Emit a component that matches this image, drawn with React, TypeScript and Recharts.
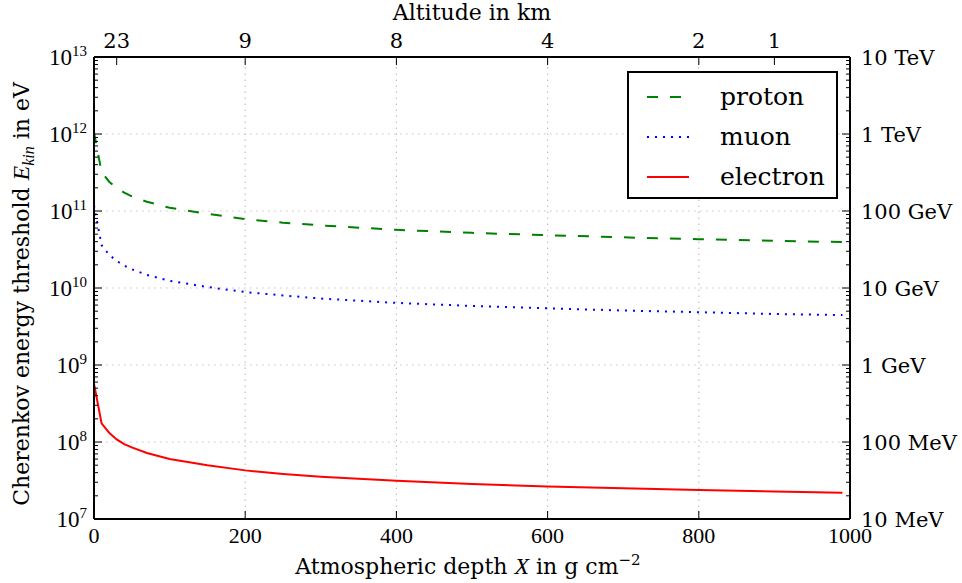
import { LineChart, Line, XAxis, YAxis, ReferenceLine, Legend } from "recharts";

// atmospheric depth in g/cm^2
const depth = [0, 10, 20, 30, 40, 50, 70, 100, 150, 200, 250, 300, 400, 500, 600, 700, 800, 900, 990];
// threshold kinetic energy in eV
const proton = [1.05e12, 3.2e11, 2.4e11, 2.0e11, 1.73e11, 1.55e11, 1.32e11, 1.1e11, 9.2e10, 7.85e10, 7.05e10, 6.5e10, 5.7e10, 5.2e10, 4.85e10, 4.55e10, 4.3e10, 4.1e10, 3.95e10];
const muon = [1.18e11, 3.6e10, 2.7e10, 2.25e10, 1.95e10, 1.75e10, 1.48e10, 1.24e10, 1.03e10, 8.85e9, 8.0e9, 7.3e9, 6.4e9, 5.85e9, 5.45e9, 5.1e9, 4.85e9, 4.6e9, 4.45e9];
const electron = [5.7e8, 1.75e8, 1.32e8, 1.08e8, 9.4e7, 8.5e7, 7.2e7, 6.0e7, 5.0e7, 4.28e7, 3.85e7, 3.55e7, 3.14e7, 2.85e7, 2.65e7, 2.5e7, 2.38e7, 2.27e7, 2.19e7];

const depthTicks = [0, 200, 400, 600, 800, 1000];
const gridDepths = [200, 400, 600, 800];
const altitudeTicks = [30, 200, 400, 600, 800, 900];
const altitudeLabels = ["23", "9", "8", "4", "2", "1"];
const decades = [7, 8, 9, 10, 11, 12, 13];
const energyLabels = ["10 MeV", "100 MeV", "1 GeV", "10 GeV", "100 GeV", "1 TeV", "10 TeV"];

const series = [
  { key: "proton", name: "proton", color: "#008000", dash: "11 12" },
  { key: "muon", name: "muon", color: "#0000ff", dash: "2 6" },
  { key: "electron", name: "electron", color: "#ff0000", dash: undefined as string | undefined },
];

const data = depth.map((d, i) => ({ depth: d, proton: proton[i], muon: muon[i], electron: electron[i] }));

// log ticks: every m*10^e, labels only on decades
const logTicks: number[] = [];
decades.forEach((e, i) => {
  if (i === decades.length - 1) logTicks.push(10 ** e);
  else for (let m = 1; m <= 9; m++) logTicks.push(m * 10 ** e);
});
const isDecade = (v: number) => Math.abs(Math.log10(v) - Math.round(Math.log10(v))) < 1e-9;

const MATH = "'Liberation Serif', serif"; // numbers on the main axes
const TEXT = "'DejaVu Serif', serif"; // plain text labels
const W = 962;
const H = 583;
const GRID = { stroke: "#c4c4c4", strokeDasharray: "1.5 4.5", strokeWidth: 1.2 };

const LeftTick = ({ x, y, payload }: any) => {
  const v = payload.value;
  const major = isDecade(v);
  return (
    <g>
      <line x1={x} x2={x + (major ? 8 : 4)} y1={y} y2={y} stroke="#000" strokeWidth={1} />
      {major && (
        <text x={x - 7} y={y + 8} textAnchor="end" fontFamily={MATH} fontSize={23} fill="#000">
          10<tspan dy={-9} fontSize={15}>{Math.round(Math.log10(v))}</tspan>
        </text>
      )}
    </g>
  );
};

const RightTick = ({ x, y, payload }: any) => {
  const v = payload.value;
  const major = isDecade(v);
  const idx = decades.indexOf(Math.round(Math.log10(v)));
  return (
    <g>
      <line x1={x} x2={x - (major ? 8 : 4)} y1={y} y2={y} stroke="#000" strokeWidth={1} />
      {major && (
        <text x={x + 11} y={y + 8} textAnchor="start" fontFamily={TEXT} fontSize={21} fill="#000">
          {energyLabels[idx]}
        </text>
      )}
    </g>
  );
};

const BottomTick = ({ x, y, payload }: any) => (
  <g>
    <line x1={x} x2={x} y1={y} y2={y - 8} stroke="#000" strokeWidth={1} />
    <text x={x} y={y + 24} textAnchor="middle" fontFamily={MATH} fontSize={22} fill="#000">
      {payload.value}
    </text>
  </g>
);

const TopTick = ({ x, y, payload }: any) => (
  <g>
    <line x1={x} x2={x} y1={y} y2={y + 8} stroke="#000" strokeWidth={1} />
    <text x={x} y={y - 9} textAnchor="middle" fontFamily={TEXT} fontSize={21} fill="#000">
      {altitudeLabels[altitudeTicks.indexOf(payload.value)]}
    </text>
  </g>
);

const LegendBox = () => (
  <div
    style={{
      boxSizing: "border-box",
      width: 211,
      height: 128,
      border: "2px solid #000",
      background: "#fff",
      paddingTop: 4,
      fontFamily: TEXT,
      fontSize: 25,
    }}
  >
    {series.map((s) => (
      <div key={s.key} style={{ display: "flex", alignItems: "center", height: 40 }}>
        <svg width={42} height={6} style={{ marginLeft: 18 }}>
          <line x1={0} x2={42} y1={3} y2={3} stroke={s.color} strokeWidth={2} strokeDasharray={s.dash} />
        </svg>
        <span style={{ marginLeft: 31, lineHeight: "40px" }}>{s.name}</span>
      </div>
    ))}
  </div>
);

export default function App() {
  return (
    <div style={{ position: "absolute", left: 0, top: 0, width: W, height: H, background: "#fff" }}>
      <LineChart width={W} height={H} data={data} margin={{ top: 0, right: 0, bottom: 0, left: 0 }}>
        <XAxis
          xAxisId="bottom"
          dataKey="depth"
          type="number"
          domain={[0, 1000]}
          ticks={depthTicks}
          interval={0}
          height={64}
          tickSize={0}
          tickMargin={0}
          tickLine={false}
          tick={<BottomTick />}
          axisLine={{ stroke: "#000", strokeWidth: 2 }}
          allowDataOverflow
          label={{
            content: () => (
              <text x={468} y={574} textAnchor="middle" fontFamily={TEXT} fontSize={22} fill="#000">
                Atmospheric depth <tspan fontFamily={MATH} fontStyle="italic" fontSize={24}>X</tspan> in g cm
                <tspan dy={-9} fontSize={15}>−2</tspan>
              </text>
            ),
          }}
        />
        <XAxis
          xAxisId="top"
          orientation="top"
          dataKey="depth"
          type="number"
          domain={[0, 1000]}
          ticks={altitudeTicks}
          interval={0}
          height={57}
          tickSize={0}
          tickMargin={0}
          tickLine={false}
          tick={<TopTick />}
          axisLine={{ stroke: "#000", strokeWidth: 2 }}
          allowDataOverflow
          label={{
            content: () => (
              <text x={472} y={20} textAnchor="middle" fontFamily={TEXT} fontSize={22} fill="#000">
                Altitude in km
              </text>
            ),
          }}
        />
        <YAxis
          yAxisId="left"
          type="number"
          scale="log"
          domain={[1e7, 1e13]}
          ticks={logTicks}
          interval={0}
          width={94}
          tickSize={0}
          tickMargin={0}
          tickLine={false}
          tick={<LeftTick />}
          axisLine={{ stroke: "#000", strokeWidth: 2 }}
          allowDataOverflow
          label={{
            content: () => (
              <text
                x={29}
                y={294}
                transform="rotate(-90, 29, 294)"
                textAnchor="middle"
                fontFamily={TEXT}
                fontSize={22}
                fill="#000"
              >
                Cherenkov energy threshold{" "}
                <tspan fontFamily={MATH} fontStyle="italic" fontSize={24}>E</tspan>
                <tspan fontFamily={MATH} fontStyle="italic" fontSize={16} dy={5}>kin</tspan>
                <tspan dy={-5}> in eV</tspan>
              </text>
            ),
          }}
        />
        <YAxis
          yAxisId="right"
          orientation="right"
          type="number"
          scale="log"
          domain={[1e7, 1e13]}
          ticks={logTicks}
          interval={0}
          width={112}
          tickSize={0}
          tickMargin={0}
          tickLine={false}
          tick={<RightTick />}
          axisLine={{ stroke: "#000", strokeWidth: 2 }}
          allowDataOverflow
        />
        {gridDepths.map((d) => (
          <ReferenceLine key={"gx" + d} xAxisId="bottom" yAxisId="left" x={d} {...GRID} />
        ))}
        {decades.slice(1, -1).map((e) => (
          <ReferenceLine key={"gy" + e} xAxisId="bottom" yAxisId="left" y={10 ** e} {...GRID} />
        ))}
        <Legend
          layout="vertical"
          align="center"
          verticalAlign="middle"
          content={<LegendBox />}
          wrapperStyle={{ left: 627, top: 71, width: 211, height: 128 }}
        />
        {series.map((s, i) => (
          <Line
            key={s.key}
            xAxisId={i === 0 ? "top" : "bottom"}
            yAxisId={i === 0 ? "right" : "left"}
            dataKey={s.key}
            name={s.name}
            type="linear"
            stroke={s.color}
            strokeWidth={2}
            strokeDasharray={s.dash}
            dot={false}
            activeDot={false}
            isAnimationActive={false}
          />
        ))}
      </LineChart>
    </div>
  );
}
